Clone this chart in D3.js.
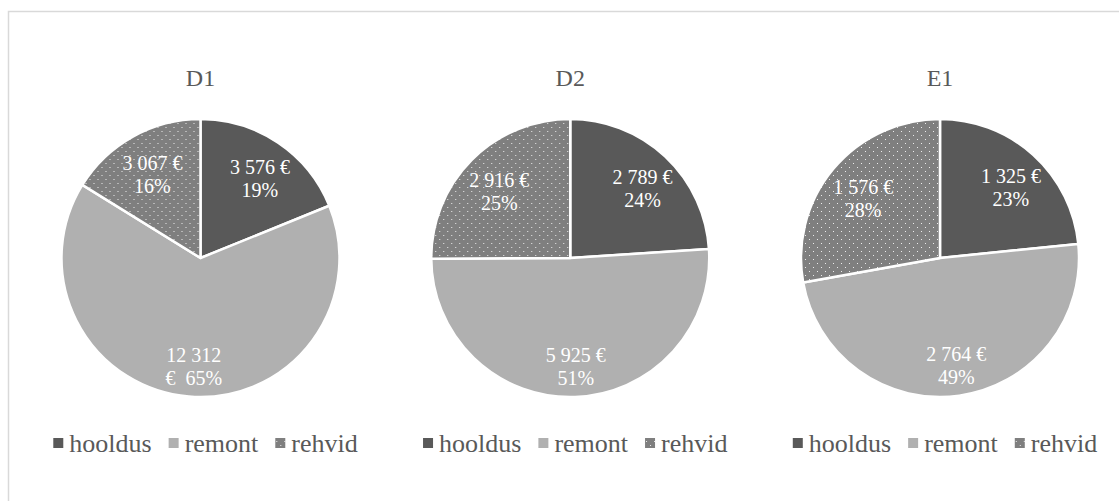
<!DOCTYPE html>
<html>
<head>
<meta charset="utf-8">
<script src="https://cdn.jsdelivr.net/npm/d3@7"></script>
<style>
  body { margin: 0; background: #fff; }
  text { font-family: "Liberation Serif", "DejaVu Serif", serif; }
</style>
</head>
<body>
<svg id="chart" width="1119" height="501"></svg>
<script>
'use strict';

// data
var charts = ["D1", "D2", "E1"];
var categories = ["hooldus", "remont", "rehvid"];
var hooldus = [3576, 2789, 1325];
var remont = [12312, 5925, 2764];
var rehvid = [3067, 2916, 1576];

var series = [hooldus, remont, rehvid];
var fills = ["#595959", "#b0b0b0", "url(#dots)"];

var width = 1119, height = 501;
var radius = 139;
var serif = "'Liberation Serif', 'DejaVu Serif', serif";
var svg = d3.select("#chart");

var locale = d3.formatLocale({ decimal: ",", thousands: "\u00a0", grouping: [3], currency: ["", "\u00a0€"] });
var fmt = locale.format(",");

// dotted pattern for rehvid
var defs = svg.append("defs");
var pat = defs.append("pattern")
	.attr("id", "dots")
	.attr("patternUnits", "userSpaceOnUse")
	.attr("width", 8)
	.attr("height", 8);
pat.append("rect").attr("width", 8).attr("height", 8).attr("fill", "#7f7f7f");
pat.append("rect").attr("x", 1).attr("y", 1).attr("width", 1).attr("height", 1).attr("fill", "#ececec");
pat.append("rect").attr("x", 5).attr("y", 5).attr("width", 1).attr("height", 1).attr("fill", "#ececec");

svg.append("rect")
	.attr("width", width)
	.attr("height", height)
	.attr("fill", "#fff");

svg.append("rect")
	.attr("x", 8.5)
	.attr("y", 11.5)
	.attr("width", 1130)
	.attr("height", 520)
	.attr("fill", "none")
	.attr("stroke", "#d9d9d9")
	.attr("stroke-width", 1.5);

var x = d3.scalePoint()
	.domain(charts)
	.range([200.5, 940])
	.padding(0);

var pie = d3.pie()
	.sort(null)
	.value(function(d) { return d.value; });

var arc = d3.arc()
	.innerRadius(0)
	.outerRadius(radius);

var labelArc = d3.arc()
	.innerRadius(radius * 0.74)
	.outerRadius(radius * 0.74);

charts.forEach(function(name, ci) {

	var cx = x(name);
	var cy = 258;
	var rows = categories.map(function(c, i) {
		return { key: c, value: series[i][ci], fill: fills[i] };
	});
	var total = d3.sum(rows, function(d) { return d.value; });

	svg.append("text")
		.attr("x", cx)
		.attr("y", 86)
		.attr("text-anchor", "middle")
		.attr("font-family", serif)
		.attr("font-size", 24)
		.attr("fill", "#595959")
		.text(name);

	var g = svg.append("g")
		.attr("transform", "translate(" + cx + "," + cy + ")");

	var arcs = pie(rows);

	g.selectAll("path")
		.data(arcs)
		.enter()
		.append("path")
		.attr("d", arc)
		.attr("fill", function(d) { return d.data.fill; })
		.attr("stroke", "#fff")
		.attr("stroke-width", 2.5)
		.attr("stroke-linejoin", "round");

	g.selectAll("text.lbl")
		.data(arcs)
		.enter()
		.append("text")
		.attr("class", "lbl")
		.attr("text-anchor", "middle")
		.attr("font-family", serif)
		.attr("font-size", 20)
		.attr("fill", "#fff")
		.each(function(d) {
			var t = d3.select(this);
			var c = labelArc.centroid(d);
			var pct = Math.round(d.data.value / total * 100) + "%";
			var first = fmt(d.data.value) + "\u00a0€";
			var probe = t.append("tspan").text(first);
			var lines;
			if (probe.node().getComputedTextLength() > 66) {
				lines = [fmt(d.data.value), "€\u00a0\u00a0" + pct];
			} else {
				lines = [first, pct];
			}
			probe.remove();
			lines.forEach(function(line, li) {
				t.append("tspan")
					.attr("x", c[0] + 2)
					.attr("y", c[1] + 13 + (li - 0.5) * 23)
					.text(line);
			});
		});

	// legend
	var leg = svg.append("g");
	var pos = 0;
	categories.forEach(function(c, i) {
		var item = leg.append("g").attr("transform", "translate(" + pos + ",0)");
		item.append("rect")
			.attr("x", 0)
			.attr("y", 438)
			.attr("width", 10)
			.attr("height", 10)
			.attr("fill", fills[i]);
		var txt = item.append("text")
			.attr("x", 16)
			.attr("y", 452)
			.attr("font-family", serif)
			.attr("font-size", 26)
			.attr("fill", "#595959")
			.text(c);
		pos += 16 + txt.node().getComputedTextLength() + 17;
	});
	var legW = pos - 17;
	leg.attr("transform", "translate(" + (cx + 5 - legW / 2) + ",0)");
});
</script>
</body>
</html>
